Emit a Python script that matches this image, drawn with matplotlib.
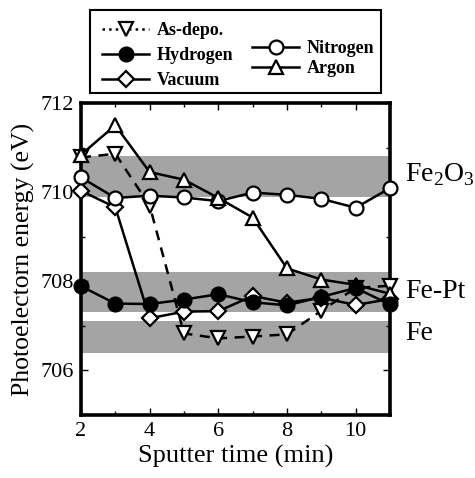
import matplotlib.pyplot as plt
from matplotlib.lines import Line2D
from matplotlib.patches import Rectangle

plt.rcParams['font.family'] = ['Liberation Serif', 'DejaVu Serif']
plt.rcParams['mathtext.fontset'] = 'custom'
plt.rcParams['mathtext.rm'] = 'Liberation Serif'

time = [2, 3, 4, 5, 6, 7, 8, 9, 10, 11]
as_depo = [710.78, 710.86, 709.70, 706.83, 706.72, 706.76, 706.81, 707.34, 707.85, 707.90]
hydrogen = [707.89, 707.50, 707.49, 707.59, 707.71, 707.53, 707.46, 707.65, 707.85, 707.48]
vacuum = [710.03, 709.66, 707.17, 707.32, 707.33, 707.67, 707.52, 707.63, 707.47, 707.60]
nitrogen = [710.33, 709.87, 709.92, 709.88, 709.80, 709.99, 709.94, 709.85, 709.65, 710.09]
argon = [710.84, 711.50, 710.45, 710.28, 709.87, 709.43, 708.29, 708.04, 707.92, 707.72]

bands = [(709.9, 710.8), (707.3, 708.2), (706.4, 707.1)]
band_labels = ["Fe$_2$O$_3$", "Fe-Pt", "Fe"]
band_label_y = [710.4, 707.78, 706.83]

fig = plt.figure(figsize=(4.75, 4.78), dpi=100)
ax = fig.add_axes([0.1705, 0.1318, 0.6505, 0.6527])

for lo, hi in bands:
    ax.axhspan(lo, hi, color='#a4a4a4', lw=0, zorder=0)

style = dict(color='black', lw=1.8, markersize=10, markeredgewidth=1.6,
             markeredgecolor='black', clip_on=False)
ax.plot(time, as_depo, ls='--', marker='v', markerfacecolor='white',
        dashes=(4, 3), zorder=3, **style)
ax.plot(time, hydrogen, ls='-', marker='o', markerfacecolor='black', zorder=4, **style)
ax.plot(time, vacuum, ls='-', marker='D', markerfacecolor='white',
        zorder=3, **{**style, 'markersize': 8.5})
ax.plot(time, nitrogen, ls='-', marker='o', markerfacecolor='white', zorder=3, **style)
ax.plot(time, argon, ls='-', marker='^', markerfacecolor='white', zorder=3, **style)

ax.set_xlim(2, 11)
ax.set_ylim(705, 712)
ax.set_xticks([2, 4, 6, 8, 10])
ax.set_xticks(range(2, 12), minor=True)
ax.set_yticks([706, 708, 710, 712])
ax.set_yticks(range(705, 713), minor=True)
ax.tick_params(which='both', direction='in', top=True, right=True, labelsize=16, pad=5)
ax.tick_params(which='major', length=5, width=1)
ax.tick_params(which='minor', length=3, width=1)
for s in ax.spines.values():
    s.set_linewidth(2.6)

ax.set_xlabel("Sputter time (min)", fontsize=19, labelpad=3)
ax.set_ylabel("Photoelectorn energy (eV)", fontsize=18.5, labelpad=4)

for lab, y in zip(band_labels, band_label_y):
    ax.text(11.45, y, lab, fontsize=20, va='center', ha='left', clip_on=False)

# legend box above the axes
def handle(ls, marker, fc, ms=10):
    return Line2D([], [], color='black', ls=ls, lw=1.8, marker=marker,
                  markerfacecolor=fc, markeredgecolor='black', markersize=ms,
                  markeredgewidth=1.6)

fig.patches.append(Rectangle((90 / 475, 1 - 93 / 478), 291 / 475, 83 / 478,
                             transform=fig.transFigure, fill=False,
                             edgecolor='black', lw=1.5))
leg_font = dict(size=13, weight='bold')
leg1 = fig.legend([handle(':', 'v', 'white'), handle('-', 'o', 'black'),
                   handle('-', 'D', 'white', 8.5)],
                  ["As-depo.", "Hydrogen", "Vacuum"],
                  loc='upper left', bbox_to_anchor=(95 / 475, 1 - 15 / 478),
                  frameon=False, prop=leg_font, handlelength=2.6,
                  labelspacing=0.45, borderaxespad=0, handletextpad=0.4)
leg2 = fig.legend([handle('-', 'o', 'white'), handle('-', '^', 'white')],
                  ["Nitrogen", "Argon"],
                  loc='upper left', bbox_to_anchor=(245 / 475, 1 - 33 / 478),
                  frameon=False, prop=leg_font, handlelength=2.6,
                  labelspacing=0.15, borderaxespad=0, handletextpad=0.4)

fig.savefig("out.png", dpi=100)
